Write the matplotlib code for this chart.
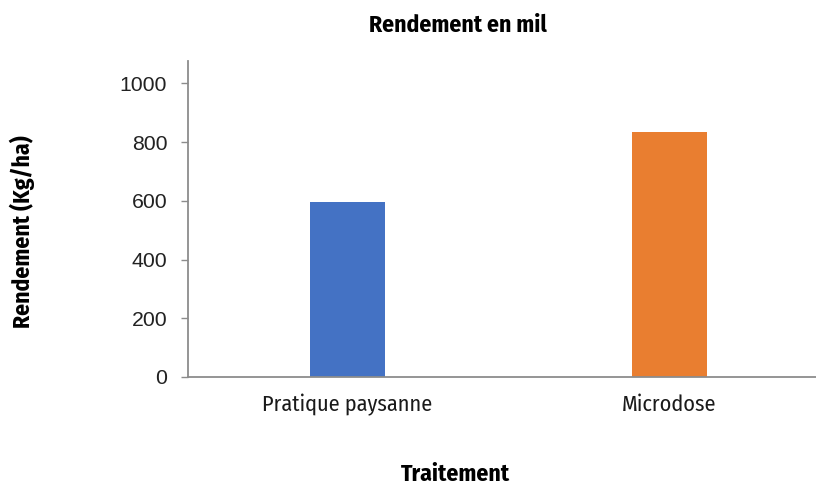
import matplotlib
matplotlib.use("Agg")
import matplotlib.pyplot as plt

categories = ["Pratique paysanne", "Microdose"]
values = [595, 835]
colors = ["#4472C4", "#E97E30"]
yticks = [0, 200, 400, 600, 800, 1000]

COND = ["Fira Sans Condensed", "DejaVu Sans"]

fig = plt.figure(figsize=(8.16, 4.87), dpi=100)
ax = fig.add_axes([188/816, (487-377)/487, 1 - 188/816, (377-61)/487])

x = list(range(len(categories)))
ax.bar(x, values, width=0.233, color=colors, zorder=2)

ax.set_xlim(-0.495, 1.455)
ax.set_ylim(0, 1076)
ax.set_yticks(yticks)
ax.set_yticklabels([str(v) for v in yticks], fontsize=15.3, family=["Liberation Sans", "DejaVu Sans"], color="#222222")
ax.set_xticks(x)
ax.set_xticklabels(categories, fontsize=16, family=COND, fontweight="normal", color="#1a1a1a")

for s in ["top", "right"]:
    ax.spines[s].set_visible(False)
for s in ["left", "bottom"]:
    ax.spines[s].set_color("#8c8c8c")
    ax.spines[s].set_linewidth(1.3)
ax.tick_params(axis="y", length=5, width=1, color="#8c8c8c", pad=10)
ax.tick_params(axis="x", length=0, pad=12)

fig.text(458/816, 1 - 25/487, "Rendement en mil", ha="center", va="center",
         fontsize=17, fontweight="bold", family=COND)
fig.text(455/816, 1 - 474/487, "Traitement", ha="center", va="center",
         fontsize=17, fontweight="bold", family=COND)
fig.text(22/816, 1 - 232/487, "Rendement (Kg/ha)", ha="center", va="center", rotation=90,
         fontsize=17, fontweight="bold", family=COND)

fig.savefig("out.png", dpi=100)
